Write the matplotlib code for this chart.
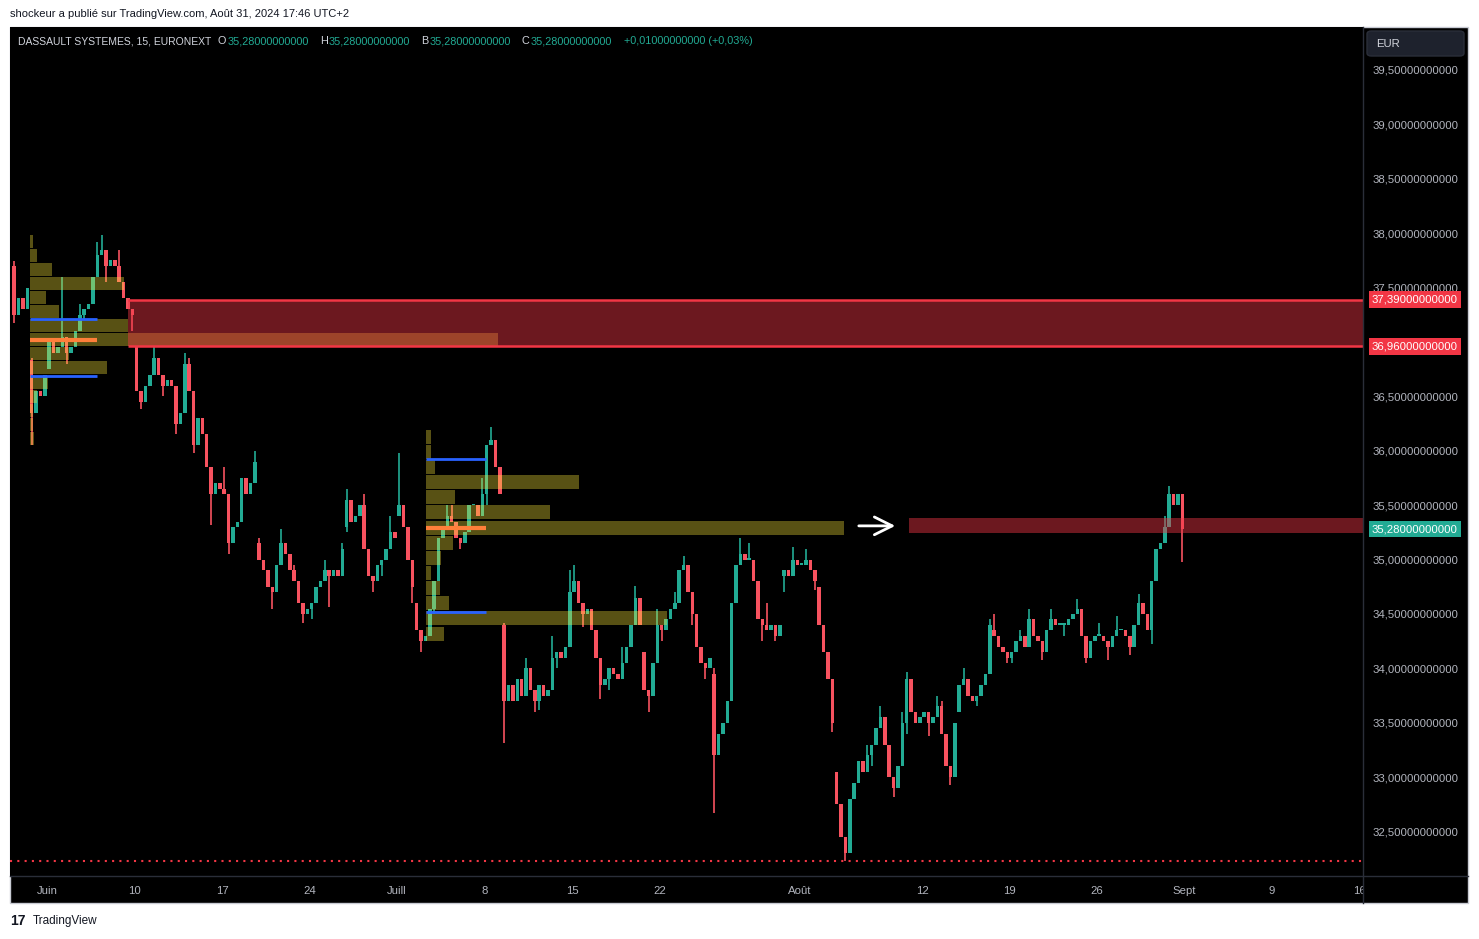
import numpy as np
import matplotlib
matplotlib.use("Agg")
from matplotlib import pyplot as plt
from matplotlib.patches import Rectangle, FancyBboxPatch
from matplotlib.lines import Line2D
from matplotlib.transforms import blended_transform_factory, Bbox, TransformedBbox

plt.rcParams['font.family'] = ['Liberation Sans', 'DejaVu Sans']

# trading days from May 30 (index -2) to Aug 30 (index 64), 15 min chart summarised
# as 4 sub-sessions per day: open of the day, 4 sub-session closes, day high / low
first_day = -2
day_open = [37.70, 36.83, 36.75, 37.05, 37.25, 37.80, 37.70, 36.95, 36.70, 36.65,
            36.80, 36.15, 35.65, 35.35, 35.15, 34.70, 34.90, 34.55, 34.90, 35.30,
            35.50, 34.95, 35.40, 34.60, 34.55, 35.40, 35.25, 35.60, 34.40, 33.90,
            33.70, 34.10, 34.70, 34.55, 33.90, 34.05, 34.15, 34.40, 34.60, 34.50,
            33.95, 33.70, 35.00, 34.40, 34.85, 34.95, 34.75, 33.05, 32.80, 33.20,
            33.30, 33.50, 33.55, 33.65, 33.60, 33.70, 34.35, 34.10, 34.20, 34.15,
            34.40, 34.55, 34.30, 34.30, 34.20, 34.35, 35.30]
sub_close = [
    [37.25, 37.40, 37.30, 37.50], [36.35, 36.55, 36.50, 36.70], [37.00, 36.90, 36.95, 37.05],
    [36.90, 36.95, 37.10, 37.25], [37.30, 37.35, 37.60, 37.80], [37.85, 37.70, 37.75, 37.70],
    [37.55, 37.40, 37.30, 37.25], [36.55, 36.45, 36.60, 36.70], [36.85, 36.70, 36.60, 36.65],
    [36.60, 36.25, 36.35, 36.80], [36.55, 36.05, 36.30, 36.15], [35.85, 35.60, 35.70, 35.65],
    [35.60, 35.15, 35.30, 35.35], [35.75, 35.60, 35.70, 35.90], [35.00, 34.90, 34.75, 34.70],
    [34.95, 35.15, 35.05, 34.90], [34.80, 34.60, 34.50, 34.55], [34.60, 34.75, 34.80, 34.90],
    [34.85, 34.90, 34.85, 35.10], [35.55, 35.35, 35.40, 35.50], [35.10, 34.85, 34.80, 34.95],
    [35.00, 35.10, 35.25, 35.20], [35.50, 35.30, 35.00, 34.75], [34.35, 34.25, 34.30, 34.55],
    [34.80, 35.20, 35.30, 35.40], [35.35, 35.20, 35.15, 35.25], [35.50, 35.50, 35.40, 35.60],
    [36.05, 36.10, 35.85, 35.60], [33.70, 33.85, 33.70, 33.90], [33.75, 34.00, 33.80, 33.70],
    [33.85, 33.75, 33.80, 34.10], [34.15, 34.10, 34.20, 34.70], [34.80, 34.60, 34.50, 34.55],
    [34.35, 34.10, 33.85, 33.90], [34.00, 33.95, 33.90, 34.05], [34.20, 34.40, 34.65, 34.40],
    [33.80, 33.75, 34.05, 34.40], [34.35, 34.45, 34.55, 34.60], [34.90, 34.95, 34.70, 34.50],
    [34.20, 34.05, 34.00, 34.10], [33.20, 33.40, 33.50, 33.70], [34.60, 34.95, 35.05, 35.00],
    [35.00, 34.80, 34.45, 34.40], [34.35, 34.40, 34.30, 34.40], [34.90, 34.85, 35.00, 34.95],
    [34.95, 35.00, 34.90, 34.80], [34.40, 34.15, 33.90, 33.50], [32.75, 32.45, 32.30, 32.80],
    [32.95, 33.15, 33.05, 33.20], [33.30, 33.45, 33.55, 33.30], [33.00, 32.90, 33.10, 33.50],
    [33.90, 33.60, 33.50, 33.55], [33.60, 33.50, 33.55, 33.65], [33.40, 33.10, 33.00, 33.50],
    [33.85, 33.90, 33.75, 33.70], [33.75, 33.85, 33.95, 34.40], [34.30, 34.20, 34.15, 34.10],
    [34.15, 34.25, 34.30, 34.20], [34.45, 34.30, 34.25, 34.15], [34.35, 34.45, 34.40, 34.40],
    [34.40, 34.45, 34.50, 34.55], [34.30, 34.10, 34.25, 34.30], [34.30, 34.25, 34.20, 34.30],
    [34.35, 34.35, 34.30, 34.20], [34.40, 34.60, 34.50, 34.35], [34.80, 35.10, 35.15, 35.30],
    [35.60, 35.50, 35.60, 35.28]]
day_high = [37.74, 36.85, 37.60, 37.35, 37.92, 37.98, 37.85, 36.95, 36.95, 36.90,
            36.85, 36.15, 35.85, 36.00, 35.20, 35.28, 34.95, 35.00, 35.15, 35.65,
            35.60, 35.40, 35.98, 34.60, 35.50, 35.50, 35.75, 36.22, 34.42, 34.10,
            34.30, 34.90, 34.95, 34.55, 34.20, 34.76, 34.55, 34.70, 35.03, 34.40,
            34.00, 35.20, 35.15, 34.60, 35.12, 35.10, 34.60, 33.05, 33.30, 33.65,
            33.60, 33.97, 33.75, 33.70, 34.00, 34.45, 34.50, 34.35, 34.55, 34.55,
            34.64, 34.50, 34.42, 34.48, 34.68, 35.40, 35.68]
day_low = [37.17, 36.05, 36.75, 36.80, 37.20, 37.55, 37.10, 36.38, 36.50, 36.15,
           35.98, 35.32, 35.05, 35.48, 34.55, 34.70, 34.42, 34.45, 34.56, 35.25,
           34.70, 34.85, 34.60, 34.15, 34.50, 35.10, 35.25, 35.50, 33.31, 33.60,
           33.62, 34.00, 34.38, 33.72, 33.80, 34.10, 33.60, 34.25, 34.40, 33.90,
           32.67, 33.70, 34.25, 34.25, 34.70, 34.72, 33.42, 32.23, 32.85, 33.10,
           32.82, 33.40, 33.38, 32.93, 33.60, 33.65, 34.05, 34.05, 34.08, 34.25,
           34.30, 34.05, 34.08, 34.12, 34.20, 34.22, 34.98]

last_price = 35.28
period_low = 32.23

# session volume profiles (row edges in EUR, relative volume per row, top to bottom)
vp1_top, vp1_bottom = 37.99, 36.05
vp1_vol = [3, 7, 22, 94, 16, 29, 98, 468, 39, 77, 18, 7, 3, 3, 4]
vp1_day = -0.97
vp1_vah, vp1_poc, vp1_val = 37.21, 37.02, 36.69
vp1_end = 2.86

vp2_top, vp2_bottom = 36.20, 34.25
vp2_vol = [5, 5, 9, 153, 29, 124, 418, 27, 15, 5, 14, 23, 241, 18]
vp2_day = 21.66
vp2_vah, vp2_poc, vp2_val = 35.92, 35.29, 34.52
vp2_end = 25.09

zone1_hi, zone1_lo, zone1_day = 37.39, 36.96, 4.63
zone2_hi, zone2_lo, zone2_day = 35.38, 35.24, 49.26
arrow_from, arrow_to, arrow_price = 46.23, 48.63, 35.31

tick_days = [0, 5, 10, 15, 20, 25, 30, 35, 43, 50, 55, 60, 65, 70, 75]
tick_text = ['Juin', '10', '17', '24', 'Juill', '8', '15', '22', 'Août',
             '12', '19', '26', 'Sept', '9', '16']
price_ticks = np.arange(32.5, 39.51, 0.5)

UP, DOWN = '#22ab94', '#f7525f'
W, H = 1479, 939


def fx(px):
    return px / W


def fy(py):
    return 1 - py / H


def fmt(v):
    return f"{v:.11f}".replace('.', ',')


# build candles
xs, o_l, h_l, l_l, c_l = [], [], [], [], []
for i, (op, cl, hi, lo) in enumerate(zip(day_open, sub_close, day_high, day_low)):
    d = first_day + i
    opens = [op] + cl[:3]
    tops = [max(a, b) for a, b in zip(opens, cl)]
    bots = [min(a, b) for a, b in zip(opens, cl)]
    k = int(np.argmax(tops))
    tops[k] = max(tops[k], hi)
    k = int(np.argmin(bots))
    bots[k] = min(bots[k], lo)
    for q in range(4):
        xs.append(d + (q + 0.5) / 4)
        o_l.append(opens[q]); c_l.append(cl[q]); h_l.append(tops[q]); l_l.append(bots[q])
xs = np.array(xs); o_a = np.array(o_l); c_a = np.array(c_l)
h_a = np.array(h_l); l_a = np.array(l_l)
cols = np.where(c_a >= o_a, UP, DOWN)

fig = plt.figure(figsize=(W / 100, H / 100), dpi=100, facecolor='white')
fig.patches.append(Rectangle((fx(10), fy(903)), 1458 / W, 876 / H, transform=fig.transFigure,
                             facecolor='black', edgecolor='#c8cbd3', lw=1, zorder=-5))

ax = fig.add_axes([fx(10), fy(876), 1353 / W, 849 / H])
ax.set_zorder(1)
ax.set_facecolor('black')
x0, x1 = -2.114, 75.2
ax.set_xlim(x0, x1)
ax.set_ylim(32.092, 39.895)

ax.vlines(xs, l_a, h_a, colors=cols, lw=1.2, zorder=2)
ax.bar(xs, np.maximum(np.abs(c_a - o_a), 0.015), bottom=np.minimum(o_a, c_a), width=0.2,
       color=cols, linewidth=0, zorder=2)

# volume profiles
for top, bot, vol, start, vmax_len in [(vp1_top, vp1_bottom, vp1_vol, vp1_day, 26.74),
                                       (vp2_top, vp2_bottom, vp2_vol, vp2_day, 23.89)]:
    edges = np.linspace(top, bot, len(vol) + 1)
    centers = (edges[:-1] + edges[1:]) / 2
    rh = abs(edges[0] - edges[1])
    lens = np.array(vol) / max(vol) * vmax_len
    ax.barh(centers, lens, height=rh * 0.92, left=start, color='#ffeb3b', alpha=0.35,
            linewidth=0, zorder=3)

for start, end, vah, poc, val in [(vp1_day, vp1_end, vp1_vah, vp1_poc, vp1_val),
                                  (vp2_day, vp2_end, vp2_vah, vp2_poc, vp2_val)]:
    ax.hlines([vah, val], start, end, color='#2962ff', lw=2, zorder=5)
    ax.hlines(poc, start, end, color='#ff7f3a', lw=3, zorder=5)

# zones
ax.barh((zone1_hi + zone1_lo) / 2, x1 - zone1_day, height=zone1_hi - zone1_lo, left=zone1_day,
        color='#f23645', alpha=0.45, linewidth=0, zorder=4)
ax.hlines([zone1_hi, zone1_lo], zone1_day, x1, color='#f23645', lw=1.8, zorder=5)
ax.barh((zone2_hi + zone2_lo) / 2, x1 - zone2_day, height=zone2_hi - zone2_lo, left=zone2_day,
        color='#f23645', alpha=0.45, linewidth=0, zorder=4)

ax.annotate('', xy=(arrow_to, arrow_price), xytext=(arrow_from, arrow_price),
            arrowprops=dict(arrowstyle='->', color='white', lw=2, mutation_scale=32), zorder=6)

ax.axhline(period_low, color='#f23645', lw=1.5, ls=(0, (1, 2.5)), zorder=5)

# axes styling
for s in ['top', 'left', 'right', 'bottom']:
    ax.spines[s].set_visible(False)
ax.yaxis.tick_right()
ax.set_yticks(price_ticks)
ax.set_yticklabels([fmt(v) for v in price_ticks])
ax.tick_params(axis='y', length=0, pad=6.5, labelsize=8.2, labelcolor='#b2b5be')
ax.set_xticks(tick_days)
ax.set_xticklabels(tick_text)
ax.tick_params(axis='x', length=0, pad=7, labelsize=8.2, labelcolor='#b2b5be')
clip = TransformedBbox(Bbox([[fx(10), 0], [fx(1363), 1]]), fig.transFigure)
for lab in ax.get_xticklabels():
    lab.set_clip_box(clip)
    lab.set_clip_on(True)

fig.add_artist(Line2D([fx(10), fx(1468)], [fy(876), fy(876)], transform=fig.transFigure,
                      color='#2a2e39', lw=1, zorder=2))
fig.add_artist(Line2D([fx(1363), fx(1363)], [fy(27), fy(903)], transform=fig.transFigure,
                      color='#2a2e39', lw=1, zorder=2))

# price tags
trans = blended_transform_factory(ax.transAxes, ax.transData)
for p, c in [(zone1_hi, '#f23645'), (zone1_lo, '#f23645'), (last_price, UP)]:
    ax.text(1 + 9 / 1353, p, fmt(p), transform=trans, ha='left', va='center', color='white',
            fontsize=8.2, zorder=10, clip_on=False,
            bbox=dict(boxstyle='square,pad=0.28', fc=c, ec='none'))

# currency button
fig.patches.append(FancyBboxPatch((fx(1367), fy(56)), 97 / W, 25 / H,
                                  boxstyle='round,pad=0,rounding_size=0.003',
                                  transform=fig.transFigure, fc='#1e222d', ec='#2a2e39', lw=1,
                                  zorder=2))
fig.text(fx(1376), fy(44), 'EUR', color='#d1d4dc', fontsize=8.2, va='center', ha='left', zorder=3)

# header / legend line
hy = fy(41)
fig.text(fx(18), hy, 'DASSAULT SYSTEMES, 15, EURONEXT', color='#d1d4dc', fontsize=7.5,
         va='center', zorder=3)
for lx, letter, vx, val in [(218, 'O', 228, 35.28), (320, 'H', 329, 35.28),
                            (421, 'B', 430, 35.28), (521, 'C', 531, 35.28)]:
    fig.text(fx(lx), hy, letter, color='#d1d4dc', fontsize=7.8, va='center', zorder=3)
    fig.text(fx(vx), hy, fmt(val), color=UP, fontsize=7.8, va='center', zorder=3)
fig.text(fx(624), hy, '+0,01000000000 (+0,03%)', color=UP, fontsize=7.8, va='center', zorder=3)

fig.text(fx(10), fy(14), 'shockeur a publié sur TradingView.com, Août 31, 2024 17:46 UTC+2',
         color='#131722', fontsize=8, va='center')
fig.text(fx(10), fy(921), '17', color='#131722', fontsize=10, fontweight='bold', va='center')
fig.text(fx(33), fy(921), 'TradingView', color='#131722', fontsize=8.5, va='center')

fig.savefig('out.png', dpi=100, facecolor='white')
